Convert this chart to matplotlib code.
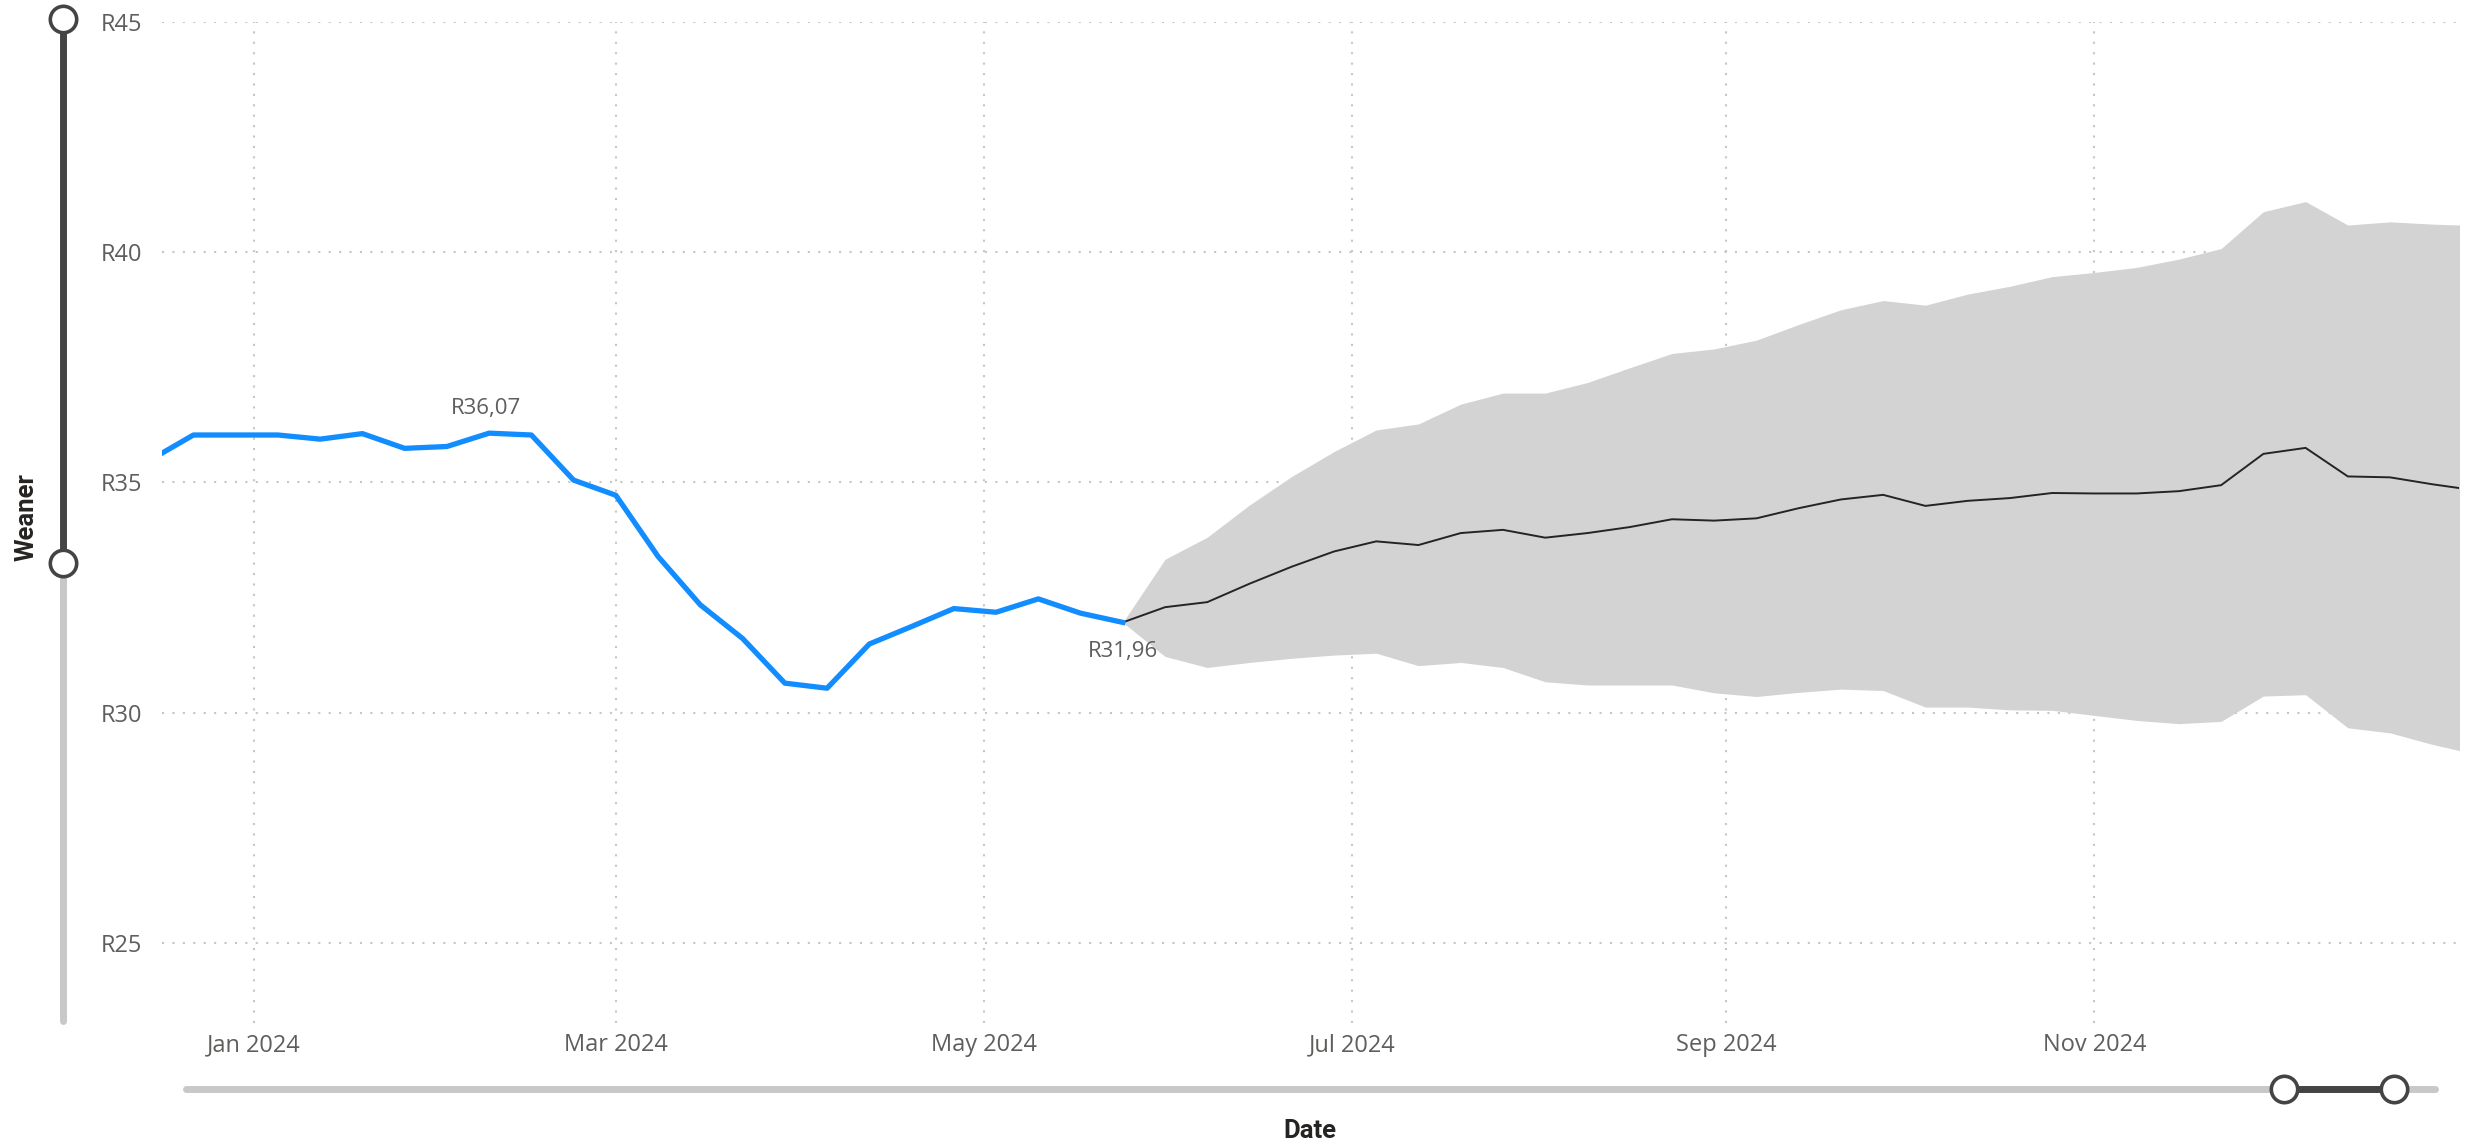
import numpy as np
import pandas as pd
import matplotlib
matplotlib.use("Agg")
import matplotlib.pyplot as plt
import matplotlib.dates as mdates
from matplotlib.lines import Line2D

# weekly weaner price (actual), Fridays
actual_dates = pd.date_range("2023-12-15", "2024-05-24", freq="7D")
actual_vals = [35.50, 36.03, 36.03, 36.03, 35.94, 36.06, 35.74, 35.78, 36.07, 36.03,
               35.05, 34.72, 33.39, 32.34, 31.61, 30.64, 30.53, 31.49, 31.87, 32.26,
               32.18, 32.47, 32.16, 31.96]

# forecast with confidence band
fc_dates = pd.date_range("2024-05-24", "2025-01-03", freq="7D")
fc_mean = [31.96, 32.29, 32.40, 32.80, 33.17, 33.50, 33.72, 33.64, 33.90, 33.97,
           33.80, 33.90, 34.03, 34.20, 34.17, 34.22, 34.44, 34.63, 34.73, 34.49,
           34.60, 34.66, 34.77, 34.76, 34.76, 34.81, 34.94, 35.62, 35.75, 35.13,
           35.11, 34.96, 34.83]
fc_upper = [31.96, 33.33, 33.81, 34.51, 35.13, 35.67, 36.14, 36.27, 36.70, 36.94,
            36.94, 37.17, 37.49, 37.80, 37.90, 38.09, 38.43, 38.75, 38.95, 38.85,
            39.09, 39.26, 39.47, 39.56, 39.67, 39.85, 40.08, 40.88, 41.10, 40.59,
            40.66, 40.61, 40.58]
fc_lower = [31.96, 31.22, 30.98, 31.09, 31.18, 31.25, 31.29, 31.02, 31.09, 30.98,
            30.67, 30.60, 30.60, 30.60, 30.43, 30.35, 30.44, 30.51, 30.48, 30.12,
            30.12, 30.06, 30.05, 29.94, 29.83, 29.76, 29.81, 30.36, 30.39, 29.67,
            29.56, 29.31, 29.10]

y_ticks = [25, 30, 35, 40, 45]
x_ticks = pd.to_datetime(["2024-01-01", "2024-03-01", "2024-05-01",
                          "2024-07-01", "2024-09-01", "2024-11-01"])

label_col = "#605E5C"
title_col = "#252423"
grid_col = "#C8C6C4"

fig = plt.figure(figsize=(24.71, 11.46), dpi=100)
ax = fig.add_axes([0.06556, 0.10698, 0.92958, 0.87382])

ax.fill_between(fc_dates, fc_lower, fc_upper, color="#D3D3D3", lw=0, zorder=1)
ax.plot(fc_dates, fc_mean, color="#252423", lw=1.4, zorder=3)
ax.plot(actual_dates, actual_vals, color="#118DFF", lw=3.8,
        solid_joinstyle="round", zorder=4)

# data labels
i_max = int(np.argmax(actual_vals))
ax.annotate("R36,07", (actual_dates[i_max], actual_vals[i_max]), xytext=(-2, 14),
            textcoords="offset points", ha="center", va="baseline",
            fontsize=16, color=label_col, family="Open Sans")
ax.annotate("R31,96", (actual_dates[-1], actual_vals[-1]), xytext=(0, -25),
            textcoords="offset points", ha="center", va="baseline",
            fontsize=16, color=label_col, family="Open Sans")

ax.set_ylim(23.25, 45)
ax.set_xlim(pd.Timestamp("2023-12-16 19:00"), pd.Timestamp("2024-12-31 10:00"))
ax.set_yticks(y_ticks)
ax.set_yticklabels(["R%d" % v for v in y_ticks])
ax.set_xticks(x_ticks)
ax.xaxis.set_major_formatter(mdates.DateFormatter("%b %Y"))

for t in ax.get_xticklabels() + ax.get_yticklabels():
    t.set_family("Open Sans")
    t.set_fontsize(17)
    t.set_color(label_col)
ax.tick_params(axis="both", length=0)
ax.tick_params(axis="y", pad=14)
ax.tick_params(axis="x", pad=7)

ax.grid(True, color=grid_col, lw=1.5, linestyle=(0, (1, 4)))
ax.set_axisbelow(True)
for s in ax.spines.values():
    s.set_visible(False)

# axis titles
fig.text(0.0109, 0.5489, "Weaner", rotation=90, ha="center", va="center",
         fontsize=18.5, color=title_col, family="Roboto", fontweight="bold")
fig.text(0.5301, 0.0135, "Date", ha="center", va="center",
         fontsize=18.5, color=title_col, family="Roboto", fontweight="bold")

# zoom sliders (decoration)
dark = "#444444"
light = "#C8C8C8"
def seg(xs, ys, col):
    fig.add_artist(Line2D(xs, ys, transform=fig.transFigure, color=col, lw=5,
                          solid_capstyle="round"))
def knob(x, y):
    fig.add_artist(Line2D([x], [y], transform=fig.transFigure, marker="o",
                          markersize=19, mfc="white", mec=dark, mew=2.6, lw=0))

sx = 0.0255
seg([sx, sx], [0.1091, 0.5087], light)
seg([sx, sx], [0.5087, 0.9834], dark)
knob(sx, 0.9834)
knob(sx, 0.5087)

sy = 0.0497
seg([0.0753, 0.9854], [sy, sy], light)
seg([0.9243, 0.9688], [sy, sy], dark)
knob(0.9243, sy)
knob(0.9688, sy)

fig.savefig("out.png", dpi=100, facecolor="white")
